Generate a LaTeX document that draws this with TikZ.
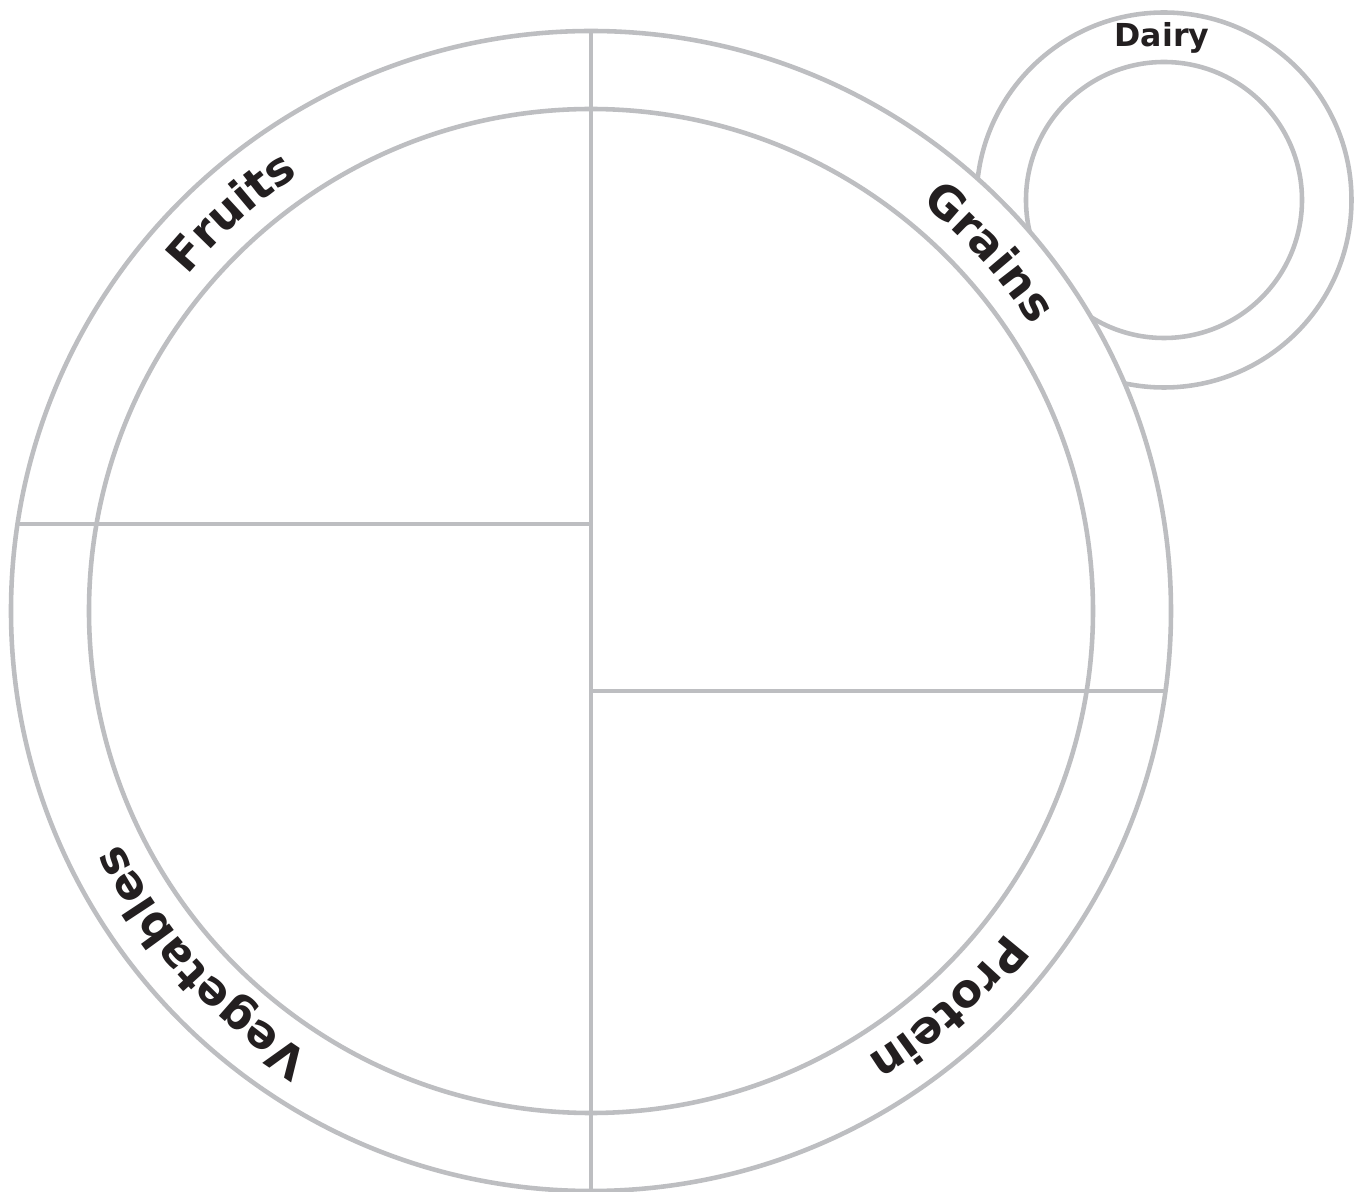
\documentclass[tikz,border=0pt]{standalone}
\usepackage{fontspec}
\setmainfont{DejaVu Sans}
\usetikzlibrary{math, decorations.text}
\definecolor{plategray}{RGB}{189,190,193}
\definecolor{labelblack}{RGB}{35,31,32}
\newcommand{\platefont}{\fontsize{13}{15}\selectfont\bfseries}

\begin{document}
\begin{tikzpicture}[line width=1.3pt]
\tikzmath{
\R=5.80;
\r=5.02;
\B=5.25;
\DR=1.875;
\Dr=1.38;
}
\useasboundingbox (-5.91,-5.81) rectangle (7.68,6.11);

\coordinate (plate) at (0,0);
\coordinate (cup) at (5.73,4.11);

\draw[plategray] (cup) circle (\DR);
\draw[plategray] (cup) circle (\Dr);
\node[text=labelblack, font=\fontsize{9}{11}\selectfont\bfseries, anchor=base] (dairy) at (5.71,5.64) {Dairy};

\filldraw[draw=plategray, fill=white] (plate) circle (\R);
\draw[plategray] (plate) circle (\r);
\draw[plategray] (0,\R) -- (0,-\R);
\draw[plategray] (0,0.87) -- ({-sqrt(\R*\R-0.87*0.87)},0.87);
\draw[plategray] (0,-0.80) -- ({sqrt(\R*\R-0.80*0.80)},-0.80);

\path[decorate, decoration={text along path, text color=labelblack, text align=center, text={|\platefont|Fruits}}]
  (182:\B) arc[start angle=182, end angle=82, radius=\B];
\path[decorate, decoration={text along path, text color=labelblack, text align=center, text={|\platefont|Grains}}]
  (92:\B) arc[start angle=92, end angle=-8, radius=\B];
\path[decorate, decoration={text along path, text color=labelblack, text align=center, text={|\platefont|Vegetables}}]
  (272:\B) arc[start angle=272, end angle=172, radius=\B];
\path[decorate, decoration={text along path, text color=labelblack, text align=center, text={|\platefont|Protein}}]
  (362:\B) arc[start angle=362, end angle=262, radius=\B];

\end{tikzpicture}
\end{document}
